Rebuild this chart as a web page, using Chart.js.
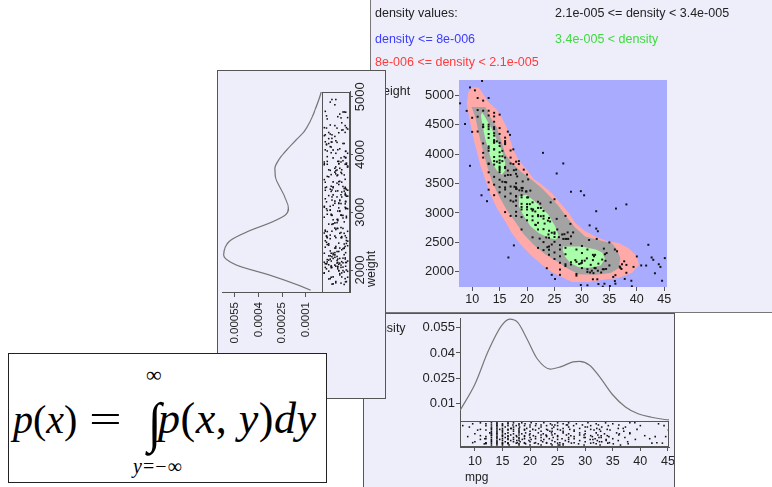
<!DOCTYPE html>
<html>
<head>
<meta charset="utf-8">
<script src="https://cdn.jsdelivr.net/npm/chart.js@4.4.1/dist/chart.umd.min.js"></script>
<style>
  html, body { margin: 0; padding: 0; background: #fff; width: 772px; height: 487px; overflow: hidden; position: relative;
               font-family: "Liberation Sans", Arial, sans-serif; }
  .panel { position: absolute; background: #eeeefa; box-shadow: 0 0 0 1px #555; overflow: hidden; }
  #mainPanel { left: 371px; top: 0; width: 401px; height: 312px; z-index: 1; box-shadow: 0 0 0 1px #777; }
  #bottomPanel { left: 364px; top: 314px; width: 310px; height: 176px; z-index: 2; }
  #leftPanel { left: 218px; top: 71px; width: 167px; height: 327px; z-index: 3; }
  #rotWrap { position: absolute; left: 0; top: 327px; width: 327px; height: 167px; transform-origin: 0 0; transform: rotate(-90deg); }
  .legend { position: absolute; font-size: 12.5px; line-height: 1; white-space: nowrap; }
  #formula { position: absolute; left: 8px; top: 353px; width: 317px; height: 128px; z-index: 4; background: #fff; border: 1px solid #222; }
  .f { position: absolute; font-family: "Liberation Serif", "Times New Roman", serif; font-size: 42px; line-height: 1; white-space: nowrap; color: #000; }
  canvas { position: absolute; left: 0; top: 0; }
</style>
</head>
<body>

<div id="mainPanel" class="panel">
  <canvas id="mainCanvas" width="401" height="312"></canvas>
  <div class="legend" style="left:4px; top:7px; color:#222;">density values:</div>
  <div class="legend" style="left:184px; top:7px; color:#222;">2.1e-005 &lt;= density &lt; 3.4e-005</div>
  <div class="legend" style="left:4px; top:33px; color:#3c3cff;">density &lt;= 8e-006</div>
  <div class="legend" style="left:184px; top:33px; color:#3ddc3d;">3.4e-005 &lt; density</div>
  <div class="legend" style="left:4px; top:56px; color:#ff3b3b;">8e-006 &lt;= density &lt; 2.1e-005</div>
</div>

<div id="bottomPanel" class="panel">
  <canvas id="mpgCanvas" width="310" height="173"></canvas>
</div>

<div id="leftPanel" class="panel">
  <div id="rotWrap"><canvas id="weightCanvas" width="327" height="167"></canvas></div>
</div>

<div id="formula">
  <span class="f" style="left:4px; top:46px; font-size:40px;"><i>p</i>(<i>x</i>)</span>
  <span class="f" style="left:80px; top:46px; font-size:40px; transform-origin:0 50%; transform:scaleX(1.45);">=</span>
  <span class="f" style="left:139px; top:43px; font-size:50px; transform-origin:50% 50%; transform:scaleY(1.1);">&#8747;</span>
  <span class="f" style="left:137px; top:10px; font-size:22px;">&#8734;</span>
  <span class="f" style="left:124px; top:102px; font-size:20px; letter-spacing:1px;"><i>y</i>=&minus;&#8734;</span>
  <span class="f" style="left:149px; top:43px; font-size:44px; letter-spacing:0.5px;"><i>p</i>(<i>x</i>, <i>y</i>)<i>dy</i></span>
</div>

<script>
// cars: [mpg, weight]
const cars = [
  // scattered points away from the band
  [7.8,4860],[8.7,4510],[9.6,5130],[10.5,5080],[11.8,5240],[9.6,3800],[11.7,3300],[12.7,3200],[16.6,2245],[17.6,2450],
  [22.9,4020],[26.6,3840],[25.4,3670],[28,3360],[29.8,3370],[30.4,3300],[32.6,3030],[36.2,3075],[38.1,3145],[31.4,2790],
  [32.6,2735],[32.9,2690],[42.1,2460],[40,2262],[42.7,2245],[43,2205],[45.1,2234],[41.7,2108],[43.3,1977],[37.8,1881],
  [38.1,2119],[36.9,2091],[33.8,1750],[29.8,1778],[24.5,1950],[25.1,1880],[23.6,2063],[32.5,2063],
  // heavy cars
  [9,4732],[10,4615],[10,4376],[11,4382],[11,4951],[11,4633],[11,4746],[12,4464],[12,4499],[12,4906],
  [12,4735],[12,4456],[12,4180],[12,4020],[12,3940],[13,4098],[13,4274],[13,4735],[13,4951],[13,4464],
  [13,4422],[13,4129],[13,4654],[13,4055],[13,3830],[13,3840],[13,4499],[13,4340],[13,3690],[13,3520],
  [13,3395],[14,4312],[14,4354],[14,4425],[14,4209],[14,4457],[14,4638],[14,4077],[14,4699],[14,3613],
  [14,4190],[14,4237],[14,3821],[14,4548],[14,4215],[14,4082],[14,3950],[14,3880],[14,3480],[14,3302],
  [14.5,4215],[14.5,3870],[15,4341],[15,3850],[15,3693],[15,4135],[15,3892],[15,3730],[15,4668],[15,4440],
  [15,3439],[15,3761],[15,4190],[15,3962],[15,3785],[15,3564],[15,3350],[15,4030],[15.5,3880],[15.5,4054],
  [15.5,3962],[15.5,3530],[16,3433],[16,4278],[16,3940],[16,4220],[16,3278],[16,3761],[16,3399],[16,4190],
  [16,3632],[16,4168],[16,3781],[16,3525],[16,3015],[16.5,4380],[16.5,3645],[16.5,3720],[16.9,4325],[16.2,3520],
  [17,3449],[17,3645],[17,3940],[17,4060],[17,3840],[17,3330],[17,3210],[17,2950],[17.5,4080],[17.5,3830],
  [17.5,3193],[17.6,3725],[17.7,3445],[18,3504],[18,3436],[18,3278],[18,3121],[18,3211],[18,3288],[18,3410],
  [18,3664],[18,3870],[18,3735],[18,2950],[18,3020],[18.1,3410],[18.2,3620],[18.5,3880],[18.5,3830],[18.6,3385],
  // middle cars
  [19,3302],[19,3425],[19,2930],[19,3155],[19,3102],[19,2720],[19,3265],[19,3060],[19.1,3381],[19.2,3425],
  [19.2,3535],[19.4,3735],[19.8,3365],[19.9,3365],[20,3102],[20,3264],[20,3651],[20,2875],[20,3060],[20,2965],
  [20,3150],[20.2,3570],[20.2,3265],[20.5,3150],[20.6,3380],[20.8,3070],[21,2587],[21,3039],[21,2945],[21,2875],
  [21,3180],[21.1,3060],[21.5,2800],[21.5,3025],[21.6,2795],[22,2833],[22,2408],[22,3086],[22,2945],[22,2965],
  [22,2720],[22,3190],[22.3,2565],[22.4,3160],[22.5,3085],[22.5,2945],[23,2950],[23,2506],[23,2904],[23,2725],
  [23,3035],[23,2370],[23.2,2820],[23.5,2585],[23.7,2420],[23.8,2870],[23.9,2635],[24,2430],[24,2375],[24,2700],
  [24,2914],[24,2578],[24,2290],[24.2,2855],[24.3,3180],[24.5,2665],[24.5,2465],[25,2592],[25,2671],[25,2648],
  [25,3233],[25,2511],[25,2220],[25,2330],[25.4,2900],[25.5,2720],[25.8,2590],[26,2155],[26,2265],[26,2380],
  [26,2455],[26.4,2635],[26.6,2560],[26.8,2640],[26,1950],[26,2040],[27,2130],[27,2300],[27,2560],[27,2100],
  [27,2408],[27,2950],[27.2,2560],[27.4,2670],[27.5,2560],[27.9,2815],[28,2604],[28,2125],[28,2164],[28,2480],
  [28.4,2670],
  // light cars
  [28.8,2200],[29,1937],[29,2171],[29,1965],[29,2380],[29.5,2135],[29.8,2145],[30,2155],[30,2189],[30,2065],
  [30,2440],[30,2320],[30.5,2190],[30.9,2230],[31,1773],[31,2045],[31,2000],[31,2380],[31.3,2542],[31.5,1990],
  [31.6,2120],[31.8,2020],[32,1875],[32,2290],[32,2200],[32.1,1980],[32.2,2265],[32.3,2065],[32.4,2290],[32.7,2560],
  [32.8,1875],[32.9,2020],[33,1795],[33,2140],[33.5,1990],[33.7,2210],[33.8,2045],[34,2045],[34,2395],[34.1,1800],
  [34.2,2300],[34.3,2188],[34.4,2050],[34.5,2320],[35,2110],[35,2500],[35.1,1760],[35.7,1915],[36,1845],[36,2380],
  [36.1,1800],[36.1,1945],[36.4,2350],[37,2070],[37.2,2050],[37.3,2130],[37.7,2180],[38.1,1985],[39,1850],[39.1,1755],
  [39.4,2085],[40.8,2110],[44,2130],[44.3,2085],[44.6,1850]
];

// density level regions, outlines as [mpg, weight]
const redBand = [[9.3,5050],[9.9,5130],[11.2,5130],[11.8,5050],[13.0,4880],[14.5,4750],[15.4,4620],[16.3,4450],[16.9,4250],
  [17.6,4050],[18.6,3880],[19.9,3740],[21.2,3580],[22.7,3480],[24.5,3340],[25.8,3200],[27.6,3000],[28.8,2830],[30.6,2690],
  [32.5,2600],[34.6,2520],[36.7,2490],[38.5,2400],[40.0,2270],[40.4,2120],[39.1,1980],[36.7,1900],[34.3,1870],[31.2,1830],
  [28.2,1830],[26.6,1900],[24.5,2000],[22.7,2120],[20.6,2290],[18.8,2470],[17.2,2660],[16.0,2860],[14.5,3080],[13.3,3320],
  [12.4,3560],[11.5,3800],[10.8,4060],[10.1,4320],[9.5,4600],[9.0,4850]];
const grayBand = [[9.9,4800],[12.4,4800],[13.3,4620],[14.5,4450],[15.4,4200],[16.0,4000],[17.2,3850],[18.9,3700],[20.9,3560],
  [22.7,3420],[24.5,3250],[25.8,3110],[27.3,2920],[28.8,2750],[30.6,2600],[33.0,2540],[35.5,2480],[36.4,2380],[37.0,2230],
  [36.7,2060],[35.2,1980],[32.5,1950],[29.4,1960],[27.3,2060],[25.4,2180],[23.3,2300],[21.2,2460],[19.4,2640],[18.0,2830],
  [16.3,3050],[14.8,3300],[13.6,3540],[12.7,3800],[11.9,4080],[11.2,4350],[10.6,4620]];
const greenUpper = [[11.8,4710],[12.4,4620],[13.6,4420],[14.5,4240],[15.4,4060],[16.0,3850],[16.0,3720],[15.4,3650],
  [14.5,3720],[13.6,3850],[13.0,4050],[12.4,4250],[11.9,4480],[11.6,4650]];
const greenMiddle = [[18.6,3290],[19.9,3310],[21.5,3190],[22.7,3090],[23.9,2970],[25.1,2780],[25.8,2600],[25.2,2550],
  [23.9,2580],[22.1,2660],[20.6,2780],[19.4,2950],[18.5,3120]];
const greenLower = [[26.6,2430],[30.0,2430],[32.5,2380],[33.7,2330],[34.2,2220],[33.4,2110],[31.2,2070],[29.4,2080],
  [27.9,2150],[26.9,2260],[26.5,2370]];

// marginal density of mpg
const mpgDensityX = [7.3, 10.0, 12.4, 14.8, 16.3, 17.8, 19.5, 21.3, 23.7, 25.5, 27.8, 29.0, 30.8, 32.6, 34.9, 37.3, 39.7, 42.0, 44.1, 45.2];
const mpgDensityY = [0.0060, 0.0215, 0.041, 0.056, 0.0600, 0.058, 0.048, 0.0366, 0.0305, 0.0318, 0.0347, 0.0350, 0.0328, 0.026, 0.0156, 0.0081, 0.0039, 0.0020, 0.0008, 0.0004];

// marginal density of weight
const weightDensityX = [1650, 1740, 1913, 2087, 2260, 2505, 2663, 2836, 2952, 3067, 3240, 3413, 3586, 3759, 3932, 4105, 4278, 4393, 4566, 4798, 5029, 5081];
const weightDensityY = [0.00007, 0.00015, 0.00033, 0.00054, 0.00062, 0.00058, 0.00047, 0.00031, 0.00023, 0.00021, 0.00023, 0.00026, 0.00029, 0.000296, 0.000265, 0.000212, 0.000152, 0.000112, 0.000074, 0.000038, 0.000008, 0.000003];

// tick labels
const mpgTicks = [10, 15, 20, 25, 30, 35, 40, 45];
const mainWeightTicks = [2000, 2500, 3000, 3500, 4000, 4500, 5000];
const mpgDensityTicks = [0.01, 0.025, 0.04, 0.055];
const weightTicks = [2000, 3000, 4000, 5000];
const weightDensityTicks = [0.0001, 0.00025, 0.0004, 0.00055];

// spread of the rug marks across the strip (0..1)
const rugJitter = [0.15, 0.62, 0.88, 0.34, 0.71, 0.07, 0.93, 0.46, 0.27, 0.79, 0.55, 0.12, 0.98, 0.39, 0.66, 0.21, 0.84, 0.5, 0.03, 0.74, 0.31, 0.58, 0.9];

const FONT = '"Liberation Sans", Arial, sans-serif';
Chart.defaults.font.family = FONT;
Chart.defaults.color = '#222';

const BLUE = '#a9abff', RED = '#ffa9a9', GRAY = '#a3a3a3', GREEN = '#a9ffa9';

function pts(pairs) { return pairs.map(p => ({ x: p[0], y: p[1] })); }

function band(pairs, color) {
  return { type: 'line', data: pts(pairs), fill: 'shape', backgroundColor: color, borderWidth: 0, pointRadius: 0, tension: 0 };
}

function axis(o) {
  return {
    type: 'linear', min: o.min, max: o.max,
    afterBuildTicks: s => { s.ticks = o.ticks.map(v => ({ value: v })); },
    afterFit: s => {
      if (o.width) s.width = o.width;
      if (o.height) s.height = o.height;
      s.paddingLeft = 0; s.paddingRight = 0; s.paddingTop = 0; s.paddingBottom = 0;
    },
    grid: { drawOnChartArea: false, drawTicks: true, tickLength: o.tick || 4, color: '#555' },
    border: { display: o.border, color: '#555' },
    ticks: { padding: o.pad, font: { size: o.font }, color: '#222', maxRotation: 0, minRotation: 0, autoSkip: false,
             callback: v => String(v) }
  };
}

const textPlugin = items => ({
  id: 'panelText',
  afterDraw(chart) {
    const ctx = chart.ctx;
    ctx.save();
    ctx.fillStyle = '#222';
    ctx.textBaseline = 'middle';
    items.forEach(t => { ctx.font = t.size + 'px ' + FONT; ctx.fillText(t.text, t.x, t.y); });
    ctx.restore();
  }
});

const plotBg = color => ({
  id: 'plotBg',
  beforeDatasetsDraw(chart) {
    const { ctx, chartArea: a } = chart;
    ctx.save();
    ctx.fillStyle = color;
    ctx.fillRect(a.left, a.top, a.right - a.left, a.bottom - a.top);
    ctx.restore();
  }
});

// frame round the rug strip, from density 0 down to the axis
const rugBox = {
  id: 'rugBox',
  afterDatasetsDraw(chart) {
    const { ctx, chartArea: a, scales: { y } } = chart;
    const y0 = Math.round(y.getPixelForValue(0)) + 0.5;
    ctx.save();
    ctx.strokeStyle = '#555';
    ctx.lineWidth = 1;
    ctx.strokeRect(a.left + 0.5, y0, a.right - a.left - 1, a.bottom - y0 - 0.5);
    ctx.restore();
  }
};

const common = {
  responsive: false, animation: false, devicePixelRatio: 1, events: [],
  plugins: { legend: { display: false }, tooltip: { enabled: false } }
};

// scatter with density regions
new Chart(document.getElementById('mainCanvas'), {
  type: 'scatter',
  data: {
    datasets: [
      { data: pts(cars), pointStyle: 'rect', pointRadius: 1.4, backgroundColor: '#111', borderWidth: 0 },
      band(greenUpper, GREEN), band(greenMiddle, GREEN), band(greenLower, GREEN),
      band(grayBand, GRAY), band(redBand, RED)
    ]
  },
  options: Object.assign({}, common, {
    layout: { padding: { left: 0, top: 80, right: 105, bottom: 0 } },
    scales: {
      x: axis({ min: 7.6, max: 45.5, ticks: mpgTicks, height: 25, pad: 1, font: 12.5, border: false }),
      y: axis({ min: 1744, max: 5256, ticks: mainWeightTicks, width: 88, pad: 1, font: 13, border: false })
    }
  }),
  plugins: [plotBg(BLUE), textPlugin([{ text: 'weight', x: 3, y: 92, size: 12.5 }])]
});

// mpg marginal with rug
new Chart(document.getElementById('mpgCanvas'), {
  type: 'scatter',
  data: {
    datasets: [
      { type: 'line', data: mpgDensityX.map((x, i) => ({ x: x, y: mpgDensityY[i] })), borderColor: '#777', borderWidth: 1.2,
        pointRadius: 0, cubicInterpolationMode: 'monotone', fill: false },
      { data: cars.map((c, i) => ({ x: c[0], y: -(0.0009 + rugJitter[i % rugJitter.length] * 0.0138) })),
        pointStyle: 'rect', pointRadius: 1.1, backgroundColor: '#111', borderWidth: 0 }
    ]
  },
  options: Object.assign({}, common, {
    layout: { padding: { left: 0, top: 1, right: 5, bottom: 0 } },
    scales: {
      x: axis({ min: 7.3, max: 45.2, ticks: mpgTicks, height: 40, pad: 3, font: 12.5, border: true }),
      y: axis({ min: -0.0156, max: 0.0607, ticks: mpgDensityTicks, width: 96, pad: 1, font: 13, border: true })
    }
  }),
  plugins: [rugBox, textPlugin([{ text: 'density', x: 2, y: 15, size: 12.5 }, { text: 'mpg', x: 101, y: 164, size: 12 }])]
});

// weight marginal with rug, drawn lying down and turned upright by the wrapper
new Chart(document.getElementById('weightCanvas'), {
  type: 'scatter',
  data: {
    datasets: [
      { type: 'line', data: weightDensityX.map((x, i) => ({ x: x, y: weightDensityY[i] })), borderColor: '#777', borderWidth: 1.2,
        pointRadius: 0, cubicInterpolationMode: 'monotone', fill: false },
      { data: cars.map((c, i) => ({ x: c[1], y: -(0.000012 + rugJitter[(i + 7) % rugJitter.length] * 0.000155) })),
        pointStyle: 'rect', pointRadius: 1.1, backgroundColor: '#111', borderWidth: 0 }
    ]
  },
  options: Object.assign({}, common, {
    layout: { padding: { left: 0, top: 1, right: 21, bottom: 0 } },
    scales: {
      x: axis({ min: 1602, max: 5081, ticks: weightTicks, height: 35, pad: 0, tick: 3, font: 13, border: true }),
      y: axis({ min: -0.000179, max: 0.00063, ticks: weightDensityTicks, width: 105, pad: 5, font: 11.5, border: true })
    }
  }),
  plugins: [rugBox, textPlugin([{ text: 'weight', x: 111, y: 154, size: 12.5 }])]
});
</script>
</body>
</html>
